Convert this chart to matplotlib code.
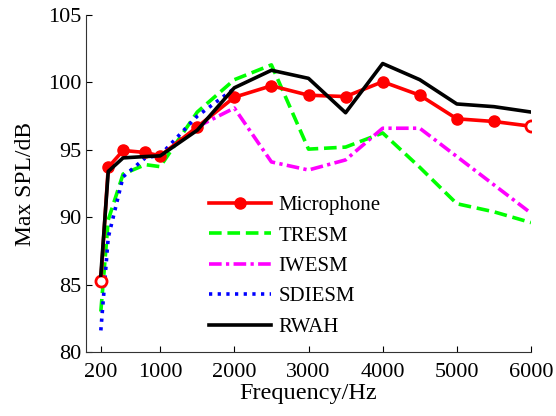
import matplotlib
matplotlib.use("Agg")
import matplotlib.pyplot as plt

freq = [200, 300, 500, 800, 1000, 1500, 2000, 2500, 3000, 3500, 4000, 4500, 5000, 5500, 6000]
microphone = [85.3, 93.7, 94.95, 94.8, 94.55, 96.7, 98.9, 99.75, 99.05, 98.95, 100.05, 99.05, 97.3, 97.1, 96.75]
tresm = [83.0, 89.8, 93.2, 93.9, 93.75, 97.8, 100.2, 101.3, 95.05, 95.2, 96.25, 93.7, 91.0, 90.4, 89.6]
iwesm_freq = [1500, 2000, 2500, 3000, 3500, 4000, 4500, 5000, 5500, 6000]
iwesm = [96.7, 98.1, 94.1, 93.5, 94.25, 96.6, 96.6, 94.5, 92.4, 90.3]
sdiesm_freq = [200, 300, 500, 800, 1000, 1500, 2000]
sdiesm = [81.6, 88.5, 93.0, 94.4, 94.6, 97.5, 99.55]
rwah = [85.7, 93.4, 94.4, 94.5, 94.55, 96.45, 99.6, 100.9, 100.3, 97.75, 101.4, 100.2, 98.4, 98.2, 97.8]

xticks = [200, 1000, 2000, 3000, 4000, 5000, 6000]
yticks = [80, 85, 90, 95, 100, 105]

plt.rcParams['font.family'] = ['Liberation Serif', 'DejaVu Serif']

fig = plt.figure(figsize=(5.56, 4.16), dpi=100)
ax = fig.add_axes([86/556, 64/416, 445/556, 337/416])

lw = 2.6
n = len(freq)
ax.plot(freq, microphone, color='#ff0000', lw=lw, marker='o', ms=8,
        markevery=list(range(1, n - 1)), label='Microphone', zorder=5)
ax.plot([freq[0], freq[-1]], [microphone[0], microphone[-1]], ls='none', marker='o',
        ms=8, mfc='white', mec='#ff0000', mew=2, zorder=5)
ax.plot(freq, tresm, color='#00ff00', lw=lw, dashes=(3.5, 1.6), label='TRESM', zorder=3)
ax.plot(iwesm_freq, iwesm, color='#ff00ff', lw=lw, dashes=(3.5, 1.2, 0.9, 1.2), label='IWESM', zorder=3)
ax.plot(sdiesm_freq, sdiesm, color='#0000ff', lw=lw, dashes=(0.9, 1.5), label='SDIESM', zorder=4)
ax.plot(freq, rwah, color='black', lw=lw, label='RWAH', zorder=6)

ax.set_xlim(0, 6000)
ax.set_ylim(80, 105)
ax.set_xticks(xticks)
ax.set_yticks(yticks)
ax.tick_params(direction='in', length=4, width=0.8, labelsize=16)
ax.tick_params(axis='x', pad=8)
ax.tick_params(axis='y', pad=3)
for s in ['top', 'right']:
    ax.spines[s].set_visible(False)
for s in ['left', 'bottom']:
    ax.spines[s].set_linewidth(0.8)
    ax.spines[s].set_color('#333333')

ax.set_xlabel('Frequency/Hz', fontsize=17.5, labelpad=1)
ax.set_ylabel('Max SPL/dB', fontsize=17, labelpad=9)

leg = ax.legend(loc='upper left', bbox_to_anchor=(194/556, 1 - 181/416),
                bbox_transform=fig.transFigure, frameon=False, fontsize=15,
                handlelength=3.0, handletextpad=0.35, labelspacing=0.52,
                borderpad=0.2)

fig.savefig('out.png', dpi=100)
